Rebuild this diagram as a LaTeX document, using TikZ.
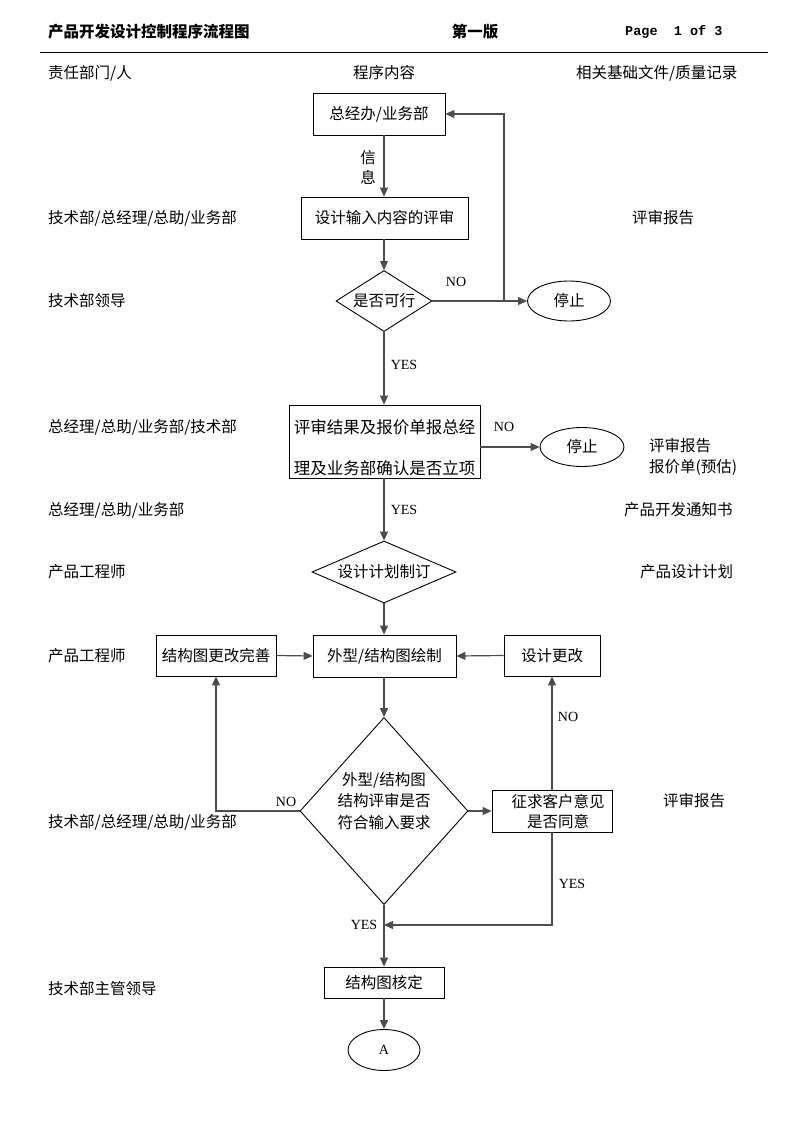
\documentclass[tikz,border=0pt]{standalone}
\usepackage{fontspec}
\setmainfont{Noto Sans CJK SC}
\newfontfamily\latfont{Liberation Serif}
\newfontfamily\monofont{Liberation Mono}
\usetikzlibrary{arrows.meta,shapes.geometric}
\begin{document}
\begin{tikzpicture}[x=1pt,y=-1pt,
  every node/.style={font=\fontsize{15.5pt}{20pt}\selectfont, inner sep=0pt},
  lbl/.style={anchor=west},
  lat/.style={font=\latfont\fontsize{14pt}{16pt}\selectfont},
  box/.style={draw=black, line width=0.9pt, rectangle},
  dia/.style={draw=black, line width=0.9pt, diamond, aspect=1.5},
  ell/.style={draw=black, line width=0.9pt, ellipse},
  con/.style={draw=black!70, line width=1.2pt},
  arr/.style={con, -{Triangle[length=9pt,width=8pt]}}]
\useasboundingbox (0,0) rectangle (793,1122);
\fill[white] (0,0) rectangle (793,1122);
% header
\node[lbl, font=\bfseries\fontsize{15.5pt}{20pt}\selectfont] (h1) at (48,32) {产品开发设计控制程序流程图};
\node[font=\bfseries\fontsize{15.5pt}{20pt}\selectfont] (h2) at (475,32) {第一版};
\node[lbl, font=\monofont\bfseries\fontsize{13.5pt}{16pt}\selectfont] (h3) at (625,32) {Page\ \ 1 of 3};
\draw[line width=1pt] (40,52) -- (768,52);
\node[lbl] (c1) at (48,73) {责任部门/人};
\node (c2) at (384,73) {程序内容};
\node[lbl] (c3) at (576,73) {相关基础文件/质量记录};
% left labels
\node[lbl] (l1) at (48,218) {技术部/总经理/总助/业务部};
\node[lbl] (l2) at (48,301) {技术部领导};
\node[lbl] (l3) at (48,427) {总经理/总助/业务部/技术部};
\node[lbl] (l4) at (48,510) {总经理/总助/业务部};
\node[lbl] (l5) at (48,572) {产品工程师};
\node[lbl] (l6) at (48,656) {产品工程师};
\node[lbl] (l7) at (48,822) {技术部/总经理/总助/业务部};
\node[lbl] (l8) at (48,989) {技术部主管领导};
% right labels
\node[lbl] (r1) at (632,218) {评审报告};
\node[lbl, align=left, font=\fontsize{15.5pt}{21pt}\selectfont] (r2) at (649,457) {评审报告\\报价单(预估)};
\node[lbl] (r3) at (624,510) {产品开发通知书};
\node[lbl] (r4) at (640,572) {产品设计计划};
\node[lbl] (r5) at (663,801) {评审报告};
% flow nodes
\node[box, minimum width=132pt, minimum height=42pt] (b1) at (379,114) {总经办/业务部};
\node[box, minimum width=167pt, minimum height=42pt] (b2) at (384.5,218) {设计输入内容的评审};
\node[dia, minimum width=96pt, minimum height=61pt] (d1) at (384,301) {};
\node (d1t) at (d1.center) {是否可行};
\node[ell, minimum width=83pt, minimum height=40pt] (e1) at (569,301) {停止};
\node[box, minimum width=191pt, minimum height=73pt] (b3) at (384.5,441.5) {};
\node[align=center, font=\fontsize{16.5pt}{41pt}\selectfont] (b3t) at (384.5,447.5) {评审结果及报价单报总经\\理及业务部确认是否立项};
\node[ell, minimum width=84pt, minimum height=39pt] (e2) at (582,447) {停止};
\node[dia, minimum width=144pt, minimum height=62pt] (d2) at (384,572) {};
\node (d2t) at (d2.center) {设计计划制订};
\node[box, minimum width=143pt, minimum height=42pt] (b4) at (384.5,656) {外型/结构图绘制};
\node[box, minimum width=120pt, minimum height=41pt] (b5) at (216,655.5) {结构图更改完善};
\node[box, minimum width=96pt, minimum height=41pt] (b6) at (552,655.5) {设计更改};
\node[dia, minimum width=168pt, minimum height=187pt] (d3) at (384,811) {};
\node[align=center, font=\fontsize{15.5pt}{21.5pt}\selectfont] (d3t) at (384,801) {外型/结构图\\结构评审是否\\符合输入要求};
\node[box, minimum width=120pt, minimum height=42pt] (b7) at (552,811) {};
\node[align=center, font=\fontsize{15.5pt}{20pt}\selectfont] (b7t) at (558,812) {征求客户意见\\是否同意};
\node[box, minimum width=120pt, minimum height=31pt] (b8) at (384,982.5) {结构图核定};
\node[ell, minimum width=72pt, minimum height=41pt, lat] (e3) at (384,1050) {A};
% connector labels
\node[align=center, font=\fontsize{15.5pt}{20pt}\selectfont] (xx) at (368,167) {信\\息};
\node[lat] (n1) at (456,282) {NO};
\node[lat] (y1) at (404,365) {YES};
\node[lat] (n2) at (504,427) {NO};
\node[lat] (y2) at (404,510) {YES};
\node[lat] (n3) at (286,802) {NO};
\node[lat] (n4) at (568,717) {NO};
\node[lat] (y3) at (572,884) {YES};
\node[lat] (y4) at (364,925) {YES};
% connectors
\coordinate (j1) at (504,301);
\coordinate (j2) at (384,925);
\draw[arr] (d1 |- b1.south) -- (d1 |- b2.north);
\draw[arr] (d1 |- b2.south) -- (d1.north);
\draw[arr] (d1.east) -- (e1.west);
\draw[arr] (j1) -- (j1 |- b1.east) -- (b1.east);
\draw[arr] (d1.south) -- (d1 |- b3.north);
\draw[arr] (b3.east |- e2.west) -- (e2.west);
\draw[arr] (d2 |- b3.south) -- (d2.north);
\draw[arr] (d2.south) -- (d2 |- b4.north);
\draw[arr] (b5.east) -- (b4.west);
\draw[arr] (b6.west) -- (b4.east);
\draw[arr] (d3 |- b4.south) -- (d3.north);
\draw[arr] (d3.west) -- (b5 |- d3.west) -- (b5.south);
\draw[arr] (d3.east) -- (b7.west);
\draw[arr] (b7.north) -- (b6.south);
\draw[arr] (b7.south) -- (b7.south |- j2) -- (j2);
\draw[arr] (d3.south) -- (b8.north);
\draw[arr] (b8.south) -- (e3.north);
\end{tikzpicture}
\end{document}
